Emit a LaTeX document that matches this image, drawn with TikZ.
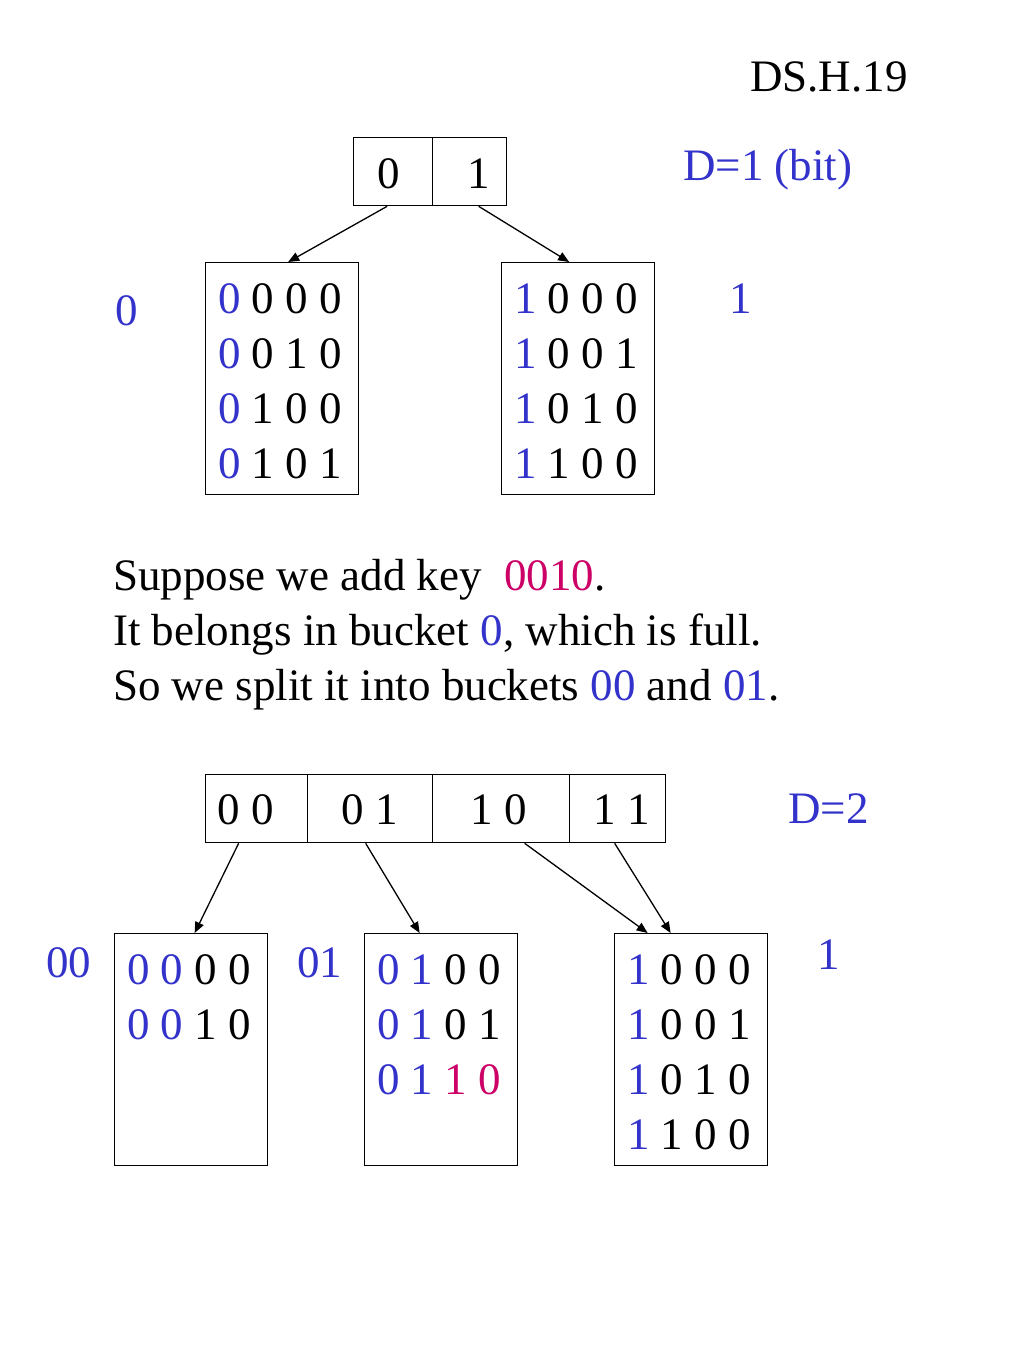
\documentclass[tikz,border=0pt]{standalone}
\usepackage{fontspec}
\setmainfont{Liberation Serif}
\usetikzlibrary{arrows.meta,calc}
\definecolor{kblue}{RGB}{51,51,204}
\definecolor{kmag}{RGB}{204,0,102}
\begin{document}
\begin{tikzpicture}[x=1pt,y=-1pt,
  txt/.style={inner sep=0pt,anchor=base west,font=\fontsize{45}{55}\selectfont},
  ctxt/.style={inner sep=0pt,anchor=base,font=\fontsize{45}{55}\selectfont},
  cell/.style={draw,line width=1.3pt,inner sep=0pt,minimum height=68pt},
  bucket/.style={draw,line width=1.3pt,inner sep=0pt,minimum width=153pt,minimum height=232pt,anchor=north west},
  ptr/.style={line width=1.3pt,-{Triangle[length=11pt,width=9pt]}}]
\fill[white] (0,0) rectangle (1024,1365);
\useasboundingbox (0,0) rectangle (1024,1365);

\node[txt] (title) at (750,91) {DS.H.19};

% top directory
\node[cell,minimum width=79pt,anchor=north west] (t0) at (353,137) {};
\node[cell,minimum width=74pt,anchor=north west] (t1) at (432,137) {};
\node[ctxt] (t0t) at (389,188) {0};
\node[ctxt] (t1t) at (479,188) {1};
\node[txt,text=kblue] (d1) at (683,180) {D=1 (bit)};

% top buckets
\node[bucket] (b0) at (205,262) {};
\node[bucket] (b1) at (501,262) {};
\node[txt] (b0r1) at (218,313) {\textcolor{kblue}{0} 0 0 0};
\node[txt] (b0r2) at (218,368) {\textcolor{kblue}{0} 0 1 0};
\node[txt] (b0r3) at (218,423) {\textcolor{kblue}{0} 1 0 0};
\node[txt] (b0r4) at (218,478) {\textcolor{kblue}{0} 1 0 1};
\node[txt] (b1r1) at (514,313) {\textcolor{kblue}{1} 0 0 0};
\node[txt] (b1r2) at (514,368) {\textcolor{kblue}{1} 0 0 1};
\node[txt] (b1r3) at (514,423) {\textcolor{kblue}{1} 0 1 0};
\node[txt] (b1r4) at (514,478) {\textcolor{kblue}{1} 1 0 0};
\node[ctxt,text=kblue] (l0) at (127,325) {0};
\node[ctxt,text=kblue] (l1) at (741,313) {1};

\draw[ptr] ([xshift=-6pt]t0.south) -- ([xshift=6pt]b0.north);
\draw[ptr] ([xshift=9pt]t1.south) -- ([xshift=-9pt]b1.north);

% explanation
\node[txt] (s1) at (113,590) {Suppose we add key\ \ \textcolor{kmag}{0010}.};
\node[txt] (s2) at (113,645) {It belongs in bucket \textcolor{kblue}{0}, which is full.};
\node[txt] (s3) at (113,700) {So we split it into buckets \textcolor{kblue}{00} and \textcolor{kblue}{01}.};

% bottom directory
\node[cell,minimum width=102pt,anchor=north west] (u00) at (205,774) {};
\node[cell,minimum width=125pt,anchor=north west] (u01) at (307,774) {};
\node[cell,minimum width=137pt,anchor=north west] (u10) at (432,774) {};
\node[cell,minimum width=96pt,anchor=north west] (u11) at (569,774) {};
\node[ctxt] (u00t) at (246,824) {0 0};
\node[ctxt] (u01t) at (370,824) {0 1};
\node[ctxt] (u10t) at (499,824) {1 0};
\node[ctxt] (u11t) at (622,824) {1 1};
\node[txt,text=kblue] (d2) at (788,823) {D=2};

% bottom buckets
\node[bucket] (bA) at (114,933) {};
\node[bucket] (bB) at (364,933) {};
\node[bucket] (bC) at (614,933) {};
\node[txt] (bAr1) at (127,984) {\textcolor{kblue}{0 0} 0 0};
\node[txt] (bAr2) at (127,1039) {\textcolor{kblue}{0 0} 1 0};
\node[txt] (bBr1) at (377,984) {\textcolor{kblue}{0 1} 0 0};
\node[txt] (bBr2) at (377,1039) {\textcolor{kblue}{0 1} 0 1};
\node[txt] (bBr3) at (377,1094) {\textcolor{kblue}{0 1} \textcolor{kmag}{1 0}};
\node[txt] (bCr1) at (627,984) {\textcolor{kblue}{1} 0 0 0};
\node[txt] (bCr2) at (627,1039) {\textcolor{kblue}{1} 0 0 1};
\node[txt] (bCr3) at (627,1094) {\textcolor{kblue}{1} 0 1 0};
\node[txt] (bCr4) at (627,1149) {\textcolor{kblue}{1} 1 0 0};
\node[txt,text=kblue] (lA) at (46,977) {00};
\node[txt,text=kblue] (lB) at (297,977) {01};
\node[ctxt,text=kblue] (lC) at (829,969) {1};

\draw[ptr] ([xshift=-18pt]u00.south) -- ([xshift=3.5pt]bA.north);
\draw[ptr] ([xshift=-4.5pt]u01.south) -- ([xshift=-21.5pt]bB.north);
\draw[ptr] ([xshift=23.5pt]u10.south) -- ([xshift=-43.5pt]bC.north);
\draw[ptr] ([xshift=-3pt]u11.south) -- ([xshift=-20.5pt]bC.north);
\end{tikzpicture}
\end{document}
